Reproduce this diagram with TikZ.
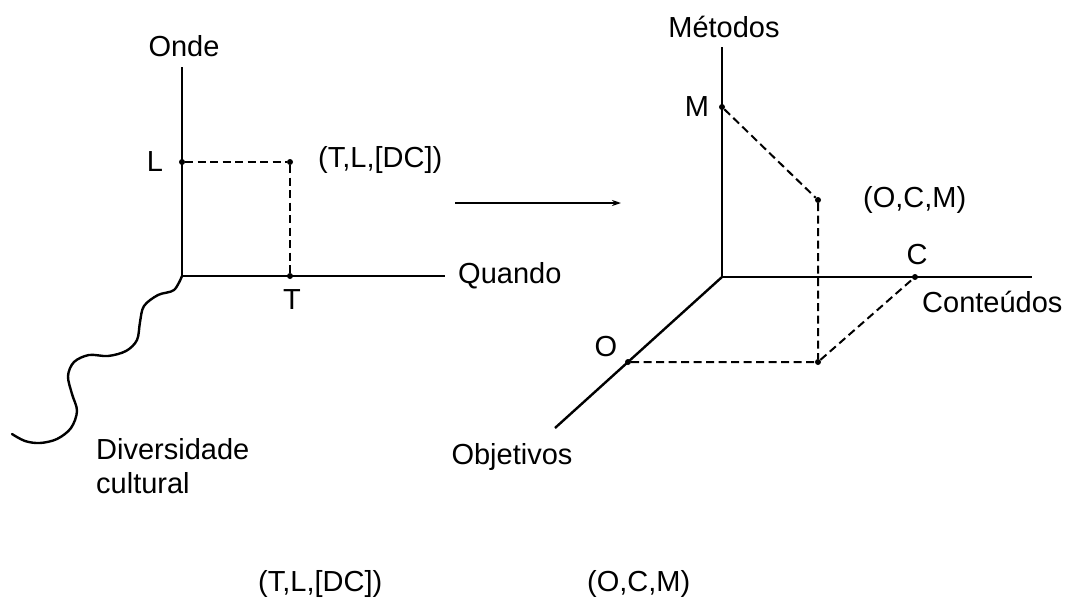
\documentclass[tikz,border=0pt]{standalone}
\usepackage{fontspec}
\setmainfont{Liberation Sans}
\usetikzlibrary{arrows.meta}
\newcommand\figfont{\fontsize{29}{34}\selectfont}
\begin{document}
\begin{tikzpicture}[x=1pt,y=-1pt,
  axis/.style={line width=2.4pt},
  guide/.style={line width=2pt, dash pattern=on 8pt off 4.5pt},
  dot/.style={circle, fill, inner sep=0pt, minimum size=6pt},
  lbl/.style={inner sep=0pt, font=\figfont}]
\useasboundingbox (0,0) rectangle (1077,598);

% ---- left: time / place plane with the cultural-diversity curve ----
\coordinate (A0) at (182,276);
\coordinate (Atop) at (182,67);
\coordinate (Aend) at (445,276);
\node[dot] (L) at (182,162) {};
\node[dot] (P) at (290,162) {};
\node[dot] (T) at (290,276) {};
\draw[axis] (Atop) -- (A0) -- (Aend);
\draw[guide] (L) -- (P) -- (T);
\draw[line width=2.4pt, line cap=round] plot[smooth, tension=0.55] coordinates
  {(182,276) (174,290) (158,295) (144,306) (140,322) (137,340) (126,351)
   (108,356) (89,355) (74,362) (68,376) (72,394) (77,411) (71,428)
   (57,439) (40,443) (25,441) (12,434)};

\node[lbl] (onde) at (184,46) {Onde};
\node[lbl] (Llbl) at (155,162) {L};
\node[lbl] (Tlbl) at (292,300) {T};
\node[lbl, anchor=west] (tldc) at (318,160) {(T,L,[DC])};
\node[lbl, anchor=west] (quando) at (458,276) {Quando};
\node[lbl, anchor=north west, align=left] (dc) at (96,438) {Diversidade\\cultural};

% ---- transition arrow ----
\coordinate (ar1) at (455,203);
\coordinate (ar2) at (621,203);
\draw[line width=2pt, -{Stealth[length=9pt,width=6pt]}] (ar1) -- (ar2);

% ---- right: objectives / contents / methods space ----
\coordinate (B0) at (722,277);
\coordinate (Btop) at (722,47);
\coordinate (Bend) at (1032,277);
\coordinate (Obend) at (555,428);
\node[dot] (M) at (722,107) {};
\node[dot] (Q) at (818,200) {};
\node[dot] (C) at (915,277) {};
\node[dot] (O) at (628,362) {};
\node[dot] (R) at (818,362) {};
\draw[axis] (Btop) -- (B0) -- (Bend);
\draw[axis] (B0) -- (Obend);
\draw[guide] (M) -- (Q) -- (R);
\draw[guide] (O) -- (R) -- (C);

\node[lbl] (metodos) at (724,27) {Métodos};
\node[lbl] (Mlbl) at (697,107) {M};
\node[lbl, anchor=west] (ocm) at (863,200) {(O,C,M)};
\node[lbl] (Clbl) at (917,255) {C};
\node[lbl, anchor=west] (conteudos) at (922,302) {Conteúdos};
\node[lbl] (Olbl) at (606,347) {O};
\node[lbl] (objetivos) at (512,457) {Objetivos};

% ---- bottom summary ----
\node[lbl, anchor=west] (tldc2) at (258,584) {(T,L,[DC])};
\node[lbl, anchor=west] (ocm2) at (587,584) {(O,C,M)};
\end{tikzpicture}
\end{document}
